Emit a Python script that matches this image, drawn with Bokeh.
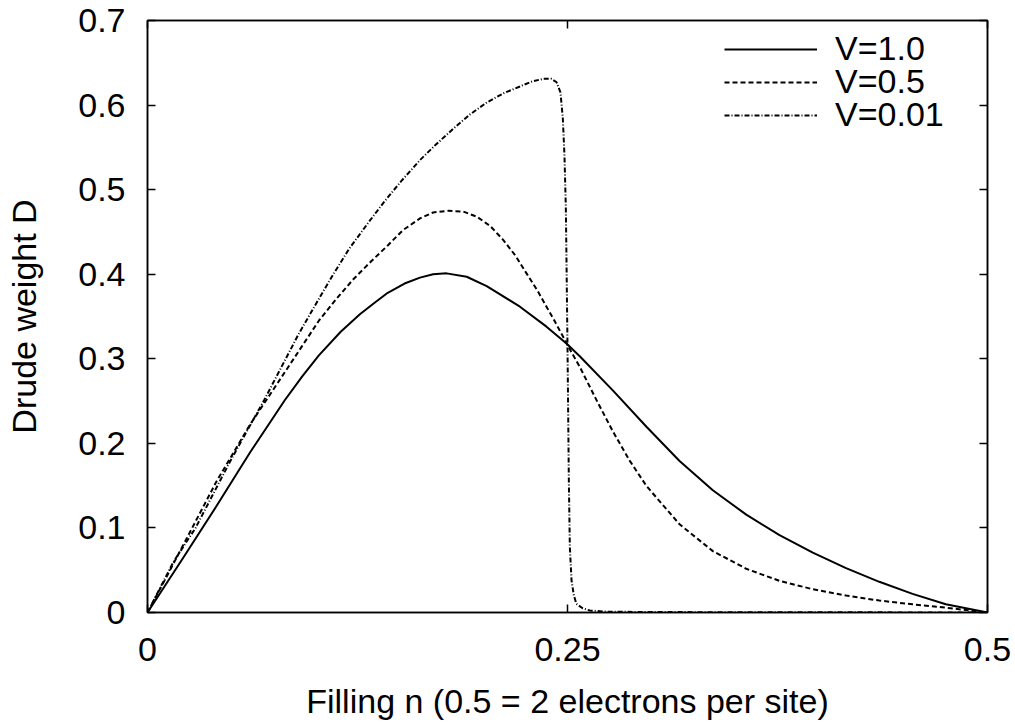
from bokeh.plotting import figure
from bokeh.models import (LinearAxis, FixedTicker, Range1d, Legend, LegendItem,
                          CustomLabelingPolicy)
from bokeh.embed import file_html
from bokeh.resources import INLINE

# ---- data ----
n_v10 = [0.0, 0.0102, 0.0204, 0.0408, 0.0613, 0.0817, 0.092, 0.102, 0.115, 0.1266,
         0.135, 0.143, 0.153, 0.1622, 0.170, 0.178, 0.19, 0.2019, 0.2217, 0.2375,
         0.2494, 0.2573, 0.2771, 0.297, 0.3167, 0.3365, 0.3564, 0.3762, 0.396,
         0.4158, 0.4356, 0.4554, 0.4752, 0.5]
d_v10 = [0.0, 0.031, 0.062, 0.125, 0.190, 0.251, 0.279, 0.304, 0.332, 0.353,
         0.366, 0.378, 0.389, 0.396, 0.400, 0.401, 0.397, 0.386, 0.3616, 0.338,
         0.318, 0.303, 0.2624, 0.2196, 0.1792, 0.1446, 0.1157, 0.0915, 0.0707,
         0.0525, 0.0363, 0.0220, 0.0097, 0.0]

n_v05 = [0.0, 0.0102, 0.0204, 0.0408, 0.0613, 0.0817, 0.092, 0.102, 0.1125, 0.1225,
         0.133, 0.143, 0.152, 0.1622, 0.17, 0.179, 0.188, 0.196, 0.204, 0.2117,
         0.219, 0.2256, 0.232, 0.2375, 0.2425, 0.2474, 0.2523, 0.2573, 0.2672,
         0.2771, 0.287, 0.297, 0.3167, 0.3365, 0.3564, 0.3762, 0.396, 0.4158,
         0.4356, 0.4554, 0.4752, 0.5]
d_v05 = [0.0, 0.038, 0.0765, 0.154, 0.223, 0.284, 0.315, 0.345, 0.371, 0.394,
         0.415, 0.434, 0.452, 0.466, 0.473, 0.475, 0.474, 0.468, 0.457, 0.4406,
         0.422, 0.401, 0.381, 0.3616, 0.344, 0.326, 0.308, 0.2905, 0.2514,
         0.2138, 0.1796, 0.1496, 0.1043, 0.0726, 0.0517, 0.0374, 0.0275, 0.0200,
         0.0141, 0.0097, 0.0057, 0.0]

n_v001 = [0.0, 0.0155, 0.0286, 0.049, 0.0694, 0.0899, 0.100, 0.110, 0.120, 0.1307,
          0.141, 0.151, 0.1622, 0.1715, 0.182, 0.192, 0.2019, 0.212, 0.2217, 0.229,
          0.2355, 0.2405, 0.2435, 0.2458, 0.2472, 0.2482, 0.2490, 0.2495, 0.25,
          0.2504, 0.2508, 0.2514, 0.2524, 0.2538, 0.2553, 0.259, 0.2633, 0.273,
          0.3, 0.5]
d_v001 = [0.0, 0.060, 0.100, 0.178, 0.251, 0.329, 0.364, 0.398, 0.430, 0.459,
          0.486, 0.510, 0.535, 0.553, 0.572, 0.589, 0.603, 0.614, 0.622, 0.628,
          0.631, 0.631, 0.627, 0.615, 0.585, 0.540, 0.480, 0.400, 0.314,
          0.235, 0.156, 0.077, 0.038, 0.020, 0.0103, 0.005, 0.0024, 0.001,
          0.0005, 0.0]

labels = ["V=1.0", "V=0.5", "V=0.01"]
x_ticks = [0, 0.25, 0.5]
x_tick_labels = ["0", "0.25", "0.5"]
y_ticks = [0, 0.1, 0.2, 0.3, 0.4, 0.5, 0.6, 0.7]
y_tick_labels = ["0", "0.1", "0.2", "0.3", "0.4", "0.5", "0.6", "0.7"]

FONT = "Liberation Sans"
FS = "34px"
FRAME_H = 592

p = figure(frame_width=840, frame_height=FRAME_H, output_backend="svg",
           toolbar_location=None,
           x_range=Range1d(0, 0.5), y_range=Range1d(0, 0.7),
           min_border_left=147, min_border_right=28, min_border_top=20,
           min_border_bottom=110, x_axis_label="Filling n (0.5 = 2 electrons per site)",
           y_axis_label="Drude weight D")
p.grid.visible = False
p.outline_line_color = "black"
p.outline_line_width = 1.5
p.background_fill_color = "white"
p.border_fill_color = "white"

r1 = p.line(n_v10, d_v10, line_color="black", line_width=2, line_join="round")
r2 = p.line(n_v05, d_v05, line_color="black", line_width=2, line_dash="5 3",
            line_join="round")
r3 = p.line(n_v001, d_v001, line_color="black", line_width=2, line_dash="5 2 1 2",
            line_join="round")

def style(ax, ticks, tick_labels, show):
    ax.ticker = FixedTicker(ticks=ticks)
    ax.major_label_overrides = {t: l for t, l in zip(ticks, tick_labels)}
    ax.major_tick_in = 8
    ax.major_tick_out = 0
    ax.minor_tick_line_color = None
    ax.major_tick_line_color = "black"
    ax.major_tick_line_width = 1.5
    ax.axis_line_color = "black"
    ax.axis_line_width = 1.5
    ax.major_label_text_font = FONT
    ax.major_label_text_color = "black"
    ax.axis_label_text_font = FONT
    ax.axis_label_text_font_style = "normal"
    ax.axis_label_text_color = "black"
    ax.axis_label_text_font_size = FS
    if show:
        ax.major_label_text_font_size = FS
    else:
        ax.major_label_text_font_size = "0px"
        ax.major_label_policy = CustomLabelingPolicy(code="return new Set()")
        ax.major_label_standoff = 0
        ax.axis_label_standoff = 0

xa = p.xaxis[0]
style(xa, x_ticks, x_tick_labels, True)
xa.major_label_standoff = 25
xa.axis_label_standoff = 18

ya = p.yaxis[0]
style(ya, y_ticks, y_tick_labels, True)
ya.major_label_standoff = 22
ya.axis_label_standoff = 32

top = LinearAxis()
style(top, x_ticks, x_tick_labels, False)
p.add_layout(top, "above")
right = LinearAxis()
style(right, y_ticks, y_tick_labels, False)
p.add_layout(right, "right")

# one legend box per entry so the rows sit at the reference spacing
renderers = [r1, r2, r3]
row_offsets = [29, 62, 95]  # distance of row centre below the frame top
for lab, rend, off in zip(labels, renderers, row_offsets):
    lg = Legend(items=[LegendItem(label=lab, renderers=[rend])],
                location=(577, FRAME_H - off - 19), margin=0, padding=0, spacing=0,
                glyph_width=93, glyph_height=20, label_standoff=18, label_height=20,
                border_line_color=None, background_fill_alpha=0,
                label_text_font=FONT, label_text_font_size=FS,
                label_text_color="black")
    p.add_layout(lg, "center")

open("out.html", "w").write(file_html(p, INLINE))
